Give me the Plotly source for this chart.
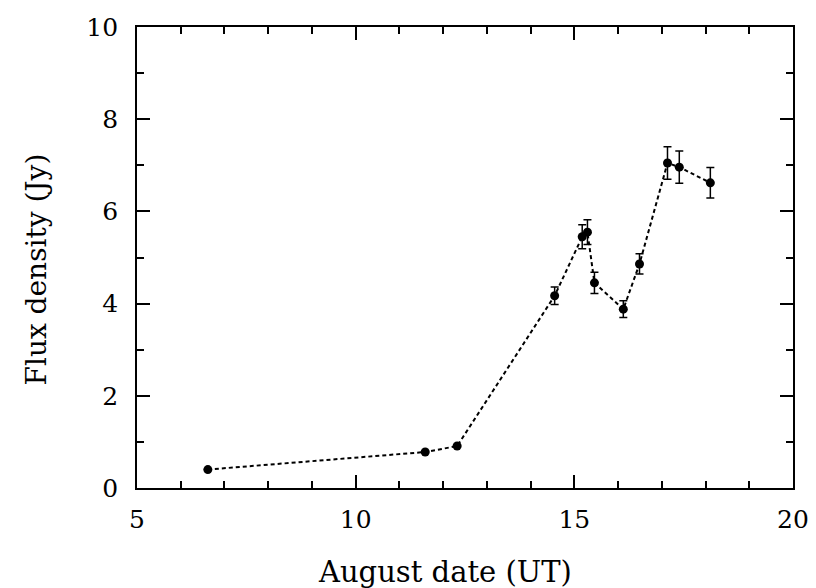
import plotly.graph_objects as go

# Data
dates = [6.62, 11.59, 12.32, 14.55, 15.18, 15.30, 15.46, 16.12, 16.49, 17.13, 17.40, 18.11]
flux = [0.40, 0.78, 0.91, 4.17, 5.45, 5.55, 4.45, 3.88, 4.86, 7.05, 6.96, 6.62]
flux_err = [0.0, 0.0, 0.0, 0.19, 0.26, 0.27, 0.23, 0.18, 0.22, 0.35, 0.35, 0.33]

x_title = "August date (UT)"
y_title = "Flux density (Jy)"

FONT = "DejaVu Serif"

fig = go.Figure()
fig.add_trace(go.Scatter(
    x=dates, y=flux, mode="lines+markers",
    line=dict(color="black", width=2, dash="4px,3px"),
    marker=dict(color="black", size=9),
    error_y=dict(type="data", array=flux_err, visible=True,
                 color="black", thickness=1.5, width=4),
    showlegend=False,
))

axis_common = dict(
    showgrid=False, zeroline=False, showline=True, linecolor="black",
    linewidth=1.8, mirror="ticks", ticks="inside", tickcolor="black",
    tickwidth=1.5, tickfont=dict(family=FONT, size=25, color="black"),
    automargin=False,
)

fig.update_xaxes(
    range=[5, 20], dtick=5, tick0=5, ticklen=13, ticklabelstandoff=8,
    minor=dict(dtick=1, ticks="inside", ticklen=7, tickcolor="black", tickwidth=1.5),
    **axis_common,
)
fig.update_yaxes(
    range=[0, 10], dtick=2, tick0=0, ticklen=13, ticklabelstandoff=12,
    minor=dict(dtick=1, ticks="inside", ticklen=7, tickcolor="black", tickwidth=1.5),
    **axis_common,
)

fig.add_annotation(
    text=x_title, xref="paper", yref="paper", x=0.5, y=0,
    xanchor="center", yanchor="middle", xshift=-20, yshift=-84,
    showarrow=False, font=dict(family=FONT, size=29, color="black"),
)
fig.add_annotation(
    text=y_title, xref="paper", yref="paper", x=0, y=0.5,
    xanchor="center", yanchor="middle", xshift=-101, yshift=-12,
    textangle=-90, showarrow=False, font=dict(family=FONT, size=28, color="black"),
)

fig.update_layout(
    width=816, height=588,
    margin=dict(l=137, r=23, t=27, b=100),
    paper_bgcolor="white", plot_bgcolor="white",
)

fig.write_html("out.html")
